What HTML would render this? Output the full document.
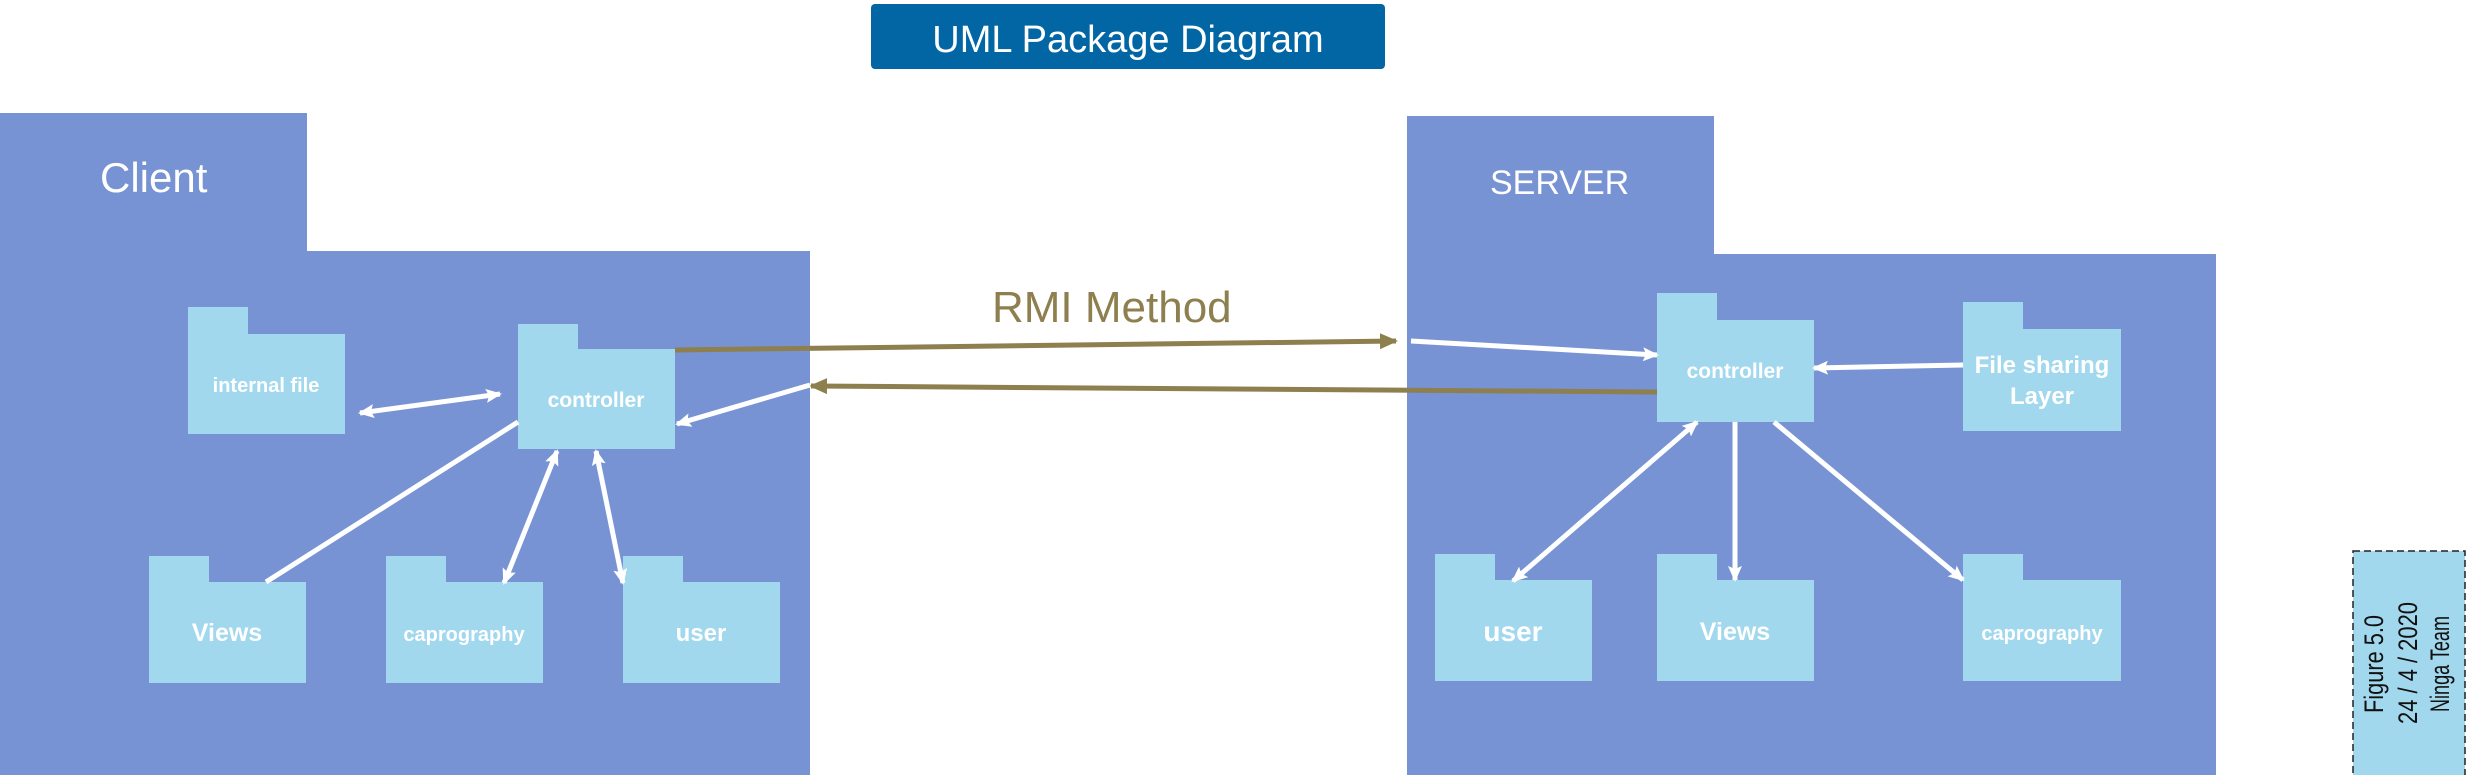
<!DOCTYPE html>
<html><head><meta charset="utf-8"><style>
html,body{margin:0;padding:0;background:#fff;}
svg{display:block}
text{font-family:"Liberation Sans",Arial,sans-serif}
.l{fill:#fff;font-weight:bold;text-anchor:middle}
</style></head><body>
<svg width="2476" height="775" viewBox="0 0 2476 775" xmlns="http://www.w3.org/2000/svg">
<defs>
<marker id="wb" markerWidth="16" markerHeight="14" refX="14" refY="7" orient="auto-start-reverse" markerUnits="userSpaceOnUse"><path d="M0,0 L16,7 L0,14 L3,7 z" fill="#fff"/></marker>
<marker id="b" markerWidth="18" markerHeight="16" refX="16" refY="8" orient="auto" markerUnits="userSpaceOnUse"><path d="M0,0 L18,8 L0,16 z" fill="#8E7F4E"/></marker>
</defs>
<rect x="871" y="4" width="514" height="65" rx="4" fill="#0266A5"/>
<text x="1128" y="52" font-size="38" fill="#fff" text-anchor="middle">UML Package Diagram</text>
<path d="M0,113 H307 V251 H810 V775 H0 Z" fill="#7793D3"/>
<text x="100" y="192" font-size="42" fill="#fff">Client</text>
<path d="M1407,116 H1714 V254 H2216 V775 H1407 Z" fill="#7793D3"/>
<text x="1490" y="194" font-size="34" fill="#fff">SERVER</text>
<g fill="#A2D8EE">
<path d="M188,307 H248 V334 H345 V434 H188 Z"/>
<path d="M518,324 H578 V349 H675 V449 H518 Z"/>
<path d="M149,556 H209 V582 H306 V683 H149 Z"/>
<path d="M386,556 H446 V582 H543 V683 H386 Z"/>
<path d="M623,556 H683 V582 H780 V683 H623 Z"/>
<path d="M1657,293 H1717 V320 H1814 V422 H1657 Z"/>
<path d="M1963,302 H2023 V329 H2121 V431 H1963 Z"/>
<path d="M1435,554 H1495 V580 H1592 V681 H1435 Z"/>
<path d="M1657,554 H1717 V580 H1814 V681 H1657 Z"/>
<path d="M1963,554 H2023 V580 H2121 V681 H1963 Z"/>
</g>
<text class="l" x="266" y="392" font-size="20">internal file</text>
<text class="l" x="596" y="407" font-size="21">controller</text>
<text class="l" x="227" y="641" font-size="25">Views</text>
<text class="l" x="464" y="641" font-size="20">caprography</text>
<text class="l" x="701" y="641" font-size="24">user</text>
<text class="l" x="1735" y="378" font-size="21">controller</text>
<text class="l" x="2042" y="373" font-size="24">File sharing</text>
<text class="l" x="2042" y="404" font-size="24">Layer</text>
<text class="l" x="1513" y="641" font-size="28">user</text>
<text class="l" x="1735" y="640" font-size="25">Views</text>
<text class="l" x="2042" y="640" font-size="20">caprography</text>
<text x="992" y="322" font-size="44" fill="#8E7F4E">RMI Method</text>
<line x1="675" y1="350" x2="1396" y2="341" stroke="#8E7F4E" stroke-width="5" marker-end="url(#b)"/>
<line x1="1657" y1="392" x2="811" y2="386" stroke="#8E7F4E" stroke-width="5" marker-end="url(#b)"/>
<g stroke="#fff" stroke-width="5" fill="none">
<line x1="360" y1="413" x2="500" y2="394" marker-start="url(#wb)" marker-end="url(#wb)"/>
<line x1="810" y1="385" x2="677" y2="424" marker-end="url(#wb)"/>
<line x1="518" y1="422" x2="266" y2="582"/>
<line x1="557" y1="451" x2="504" y2="583" marker-start="url(#wb)" marker-end="url(#wb)"/>
<line x1="596" y1="451" x2="623" y2="583" marker-start="url(#wb)" marker-end="url(#wb)"/>
<line x1="1411" y1="341" x2="1657" y2="355" marker-end="url(#wb)"/>
<line x1="1963" y1="365" x2="1814" y2="368" marker-end="url(#wb)"/>
<line x1="1697" y1="422" x2="1513" y2="581" marker-start="url(#wb)" marker-end="url(#wb)"/>
<line x1="1735" y1="422" x2="1735" y2="580" marker-end="url(#wb)"/>
<line x1="1774" y1="422" x2="1963" y2="580" marker-end="url(#wb)"/>
</g>
<rect x="2353" y="551" width="112" height="230" fill="#A2D8EE" stroke="#222" stroke-width="1.5" stroke-dasharray="7,4"/>
<g fill="#111" font-size="27" text-anchor="middle">
<text transform="translate(2383,664) rotate(-90)" textLength="98" lengthAdjust="spacingAndGlyphs">Figure  5.0</text>
<text transform="translate(2417,663) rotate(-90)" textLength="122" lengthAdjust="spacingAndGlyphs">24 / 4 / 2020</text>
<text transform="translate(2449,664) rotate(-90)" textLength="96" lengthAdjust="spacingAndGlyphs">Ninga Team</text>
</g>
</svg>
</body></html>
